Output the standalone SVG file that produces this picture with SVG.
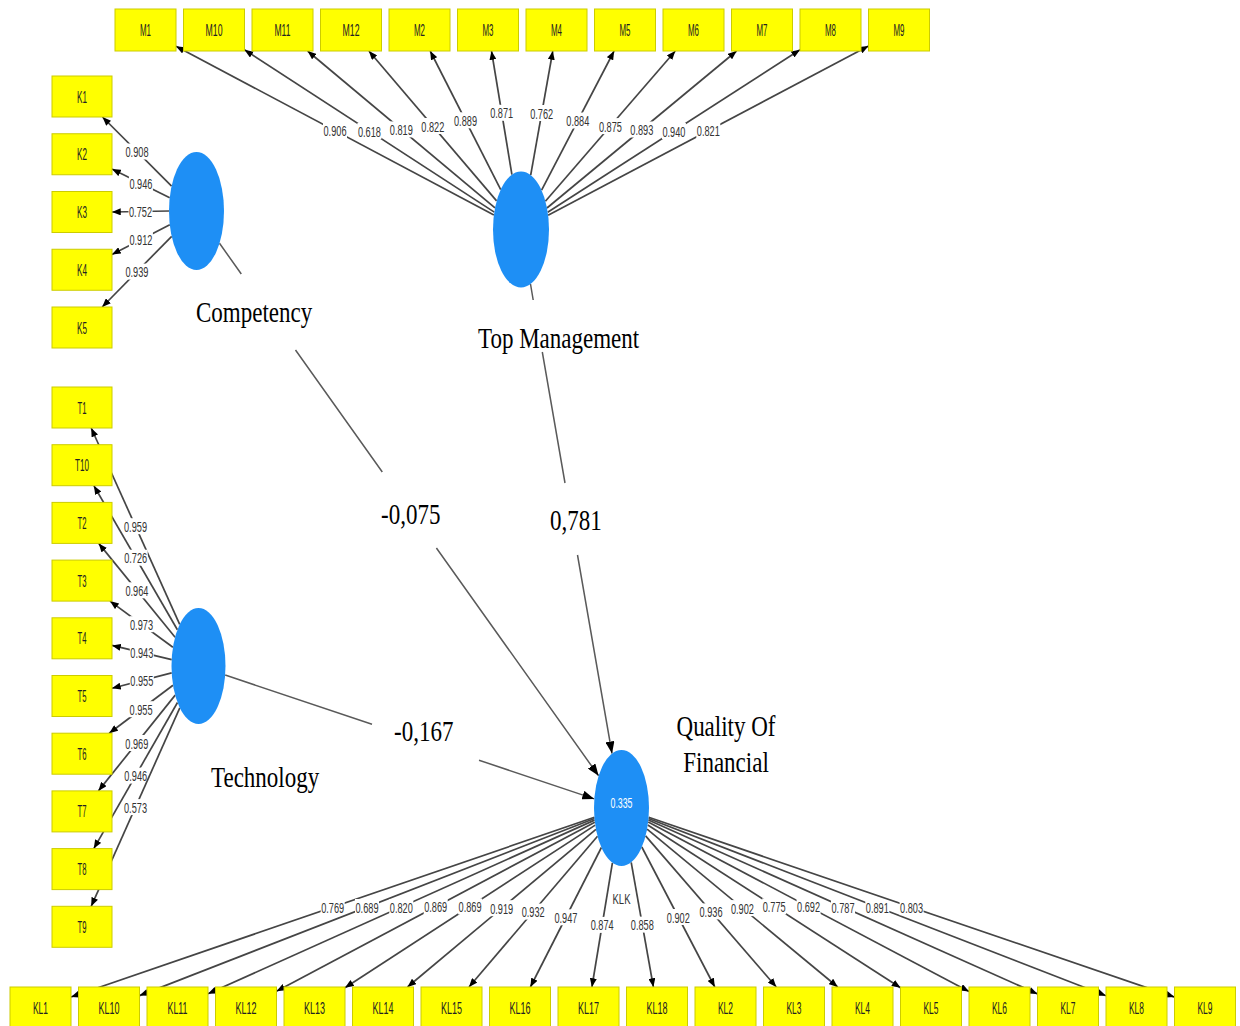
<svg xmlns="http://www.w3.org/2000/svg" width="1240" height="1026" viewBox="0 0 1240 1026">
<defs>
<style>
.ind rect{fill:#ffff00;stroke:#cccc00;stroke-width:1}
.ind text{font-family:"Liberation Sans",Arial,sans-serif;font-size:17px;fill:#222222;text-anchor:middle}
.lv{fill:#1e8ff5}
.ld line{stroke:#454545;stroke-width:1.7;marker-end:url(#ah)}
.ld rect{fill:#ffffff}
.ld text{font-family:"Liberation Sans",Arial,sans-serif;font-size:14px;fill:#333333;text-anchor:middle}
.st{fill:none;stroke:#5a5a5a;stroke-width:1.5;marker-end:url(#ahb)}
.big{font-family:"Liberation Serif","Times New Roman",serif;font-size:23px;fill:#000000}
</style>
<marker id="ah" viewBox="0 0 10 8" refX="10" refY="4" markerWidth="9" markerHeight="7" markerUnits="userSpaceOnUse" orient="auto"><path d="M0,0 L10,4 L0,8 Z" fill="#000"/></marker>
<marker id="ahb" viewBox="0 0 12 9" refX="12" refY="4.5" markerWidth="12" markerHeight="9" markerUnits="userSpaceOnUse" orient="auto"><path d="M0,0 L12,4.5 L0,9 Z" fill="#000"/></marker>
</defs>
<rect width="1240" height="1026" fill="#ffffff"/>

<g id="connectors">
<path id="p-comp-qf" class="st" d="M219.5,243.3 L241.3,274 M295.5,350 L382.3,472 M436.4,548 L598.6,775.8"/>
<path id="p-tm-qf" class="st" d="M530.5,284 L533.2,300 M542.3,352 L565,483 M577.5,555 L612,753.5"/>
<path id="p-tech-qf" class="st" d="M225.2,675 L372,724.3 M479,760.2 L594.3,798.9"/>

<g class="ld">
<line x1="493.9" y1="215.1" x2="176" y2="46.2"/><rect x="323" y="123" width="24" height="16"/><text x="335" y="136" textLength="23" lengthAdjust="spacingAndGlyphs">0.906</text>
<line x1="494.3" y1="212.1" x2="244.5" y2="49.8"/><rect x="357.4" y="123" width="24" height="16"/><text x="369.4" y="136.5" textLength="23" lengthAdjust="spacingAndGlyphs">0.618</text>
<line x1="495" y1="207.8" x2="307.6" y2="51"/><rect x="389.3" y="121.4" width="24" height="16"/><text x="401.3" y="134.9" textLength="23" lengthAdjust="spacingAndGlyphs">0.819</text>
<line x1="496.6" y1="200.9" x2="368.9" y2="51"/><rect x="420.8" y="118" width="24" height="16"/><text x="432.8" y="131.5" textLength="23" lengthAdjust="spacingAndGlyphs">0.822</text>
<line x1="500.7" y1="189.6" x2="430.2" y2="51"/><rect x="453.5" y="112.3" width="24" height="16"/><text x="465.5" y="125.8" textLength="23" lengthAdjust="spacingAndGlyphs">0.889</text>
<line x1="511.9" y1="174.6" x2="491.5" y2="51"/><rect x="489.7" y="104.8" width="24" height="16"/><text x="501.7" y="118.3" textLength="23" lengthAdjust="spacingAndGlyphs">0.871</text>
<line x1="530.7" y1="175.1" x2="552.8" y2="51"/><rect x="529.7" y="105" width="24" height="16"/><text x="541.7" y="118.5" textLength="23" lengthAdjust="spacingAndGlyphs">0.762</text>
<line x1="541.6" y1="190.1" x2="614.1" y2="51"/><rect x="565.8" y="112.5" width="24" height="16"/><text x="577.8" y="126" textLength="23" lengthAdjust="spacingAndGlyphs">0.884</text>
<line x1="545.4" y1="201.2" x2="675.3" y2="51"/><rect x="598.4" y="118.1" width="24" height="16"/><text x="610.4" y="131.6" textLength="23" lengthAdjust="spacingAndGlyphs">0.875</text>
<line x1="547" y1="208" x2="736.6" y2="51"/><rect x="629.8" y="121.5" width="24" height="16"/><text x="641.8" y="135" textLength="23" lengthAdjust="spacingAndGlyphs">0.893</text>
<line x1="547.7" y1="212.3" x2="800" y2="49.7"/><rect x="661.9" y="123" width="24" height="16"/><text x="673.9" y="136.5" textLength="23" lengthAdjust="spacingAndGlyphs">0.940</text>
<line x1="548.1" y1="215.2" x2="868.5" y2="46.1"/><rect x="696.3" y="122.6" width="24" height="16"/><text x="708.3" y="136.1" textLength="23" lengthAdjust="spacingAndGlyphs">0.821</text>
</g>

<g class="ld">
<line x1="171.6" y1="186.1" x2="102.5" y2="117"/><rect x="125" y="143.5" width="24" height="16"/><text x="137" y="157" textLength="23" lengthAdjust="spacingAndGlyphs">0.908</text>
<line x1="169.7" y1="197.7" x2="112" y2="169.1"/><rect x="128.9" y="175.4" width="24" height="16"/><text x="140.9" y="188.9" textLength="23" lengthAdjust="spacingAndGlyphs">0.946</text>
<line x1="169" y1="211" x2="112" y2="212"/><rect x="128.5" y="203.5" width="24" height="16"/><text x="140.5" y="217" textLength="23" lengthAdjust="spacingAndGlyphs">0.752</text>
<line x1="169.8" y1="224.7" x2="112" y2="254.4"/><rect x="128.9" y="231.5" width="24" height="16"/><text x="140.9" y="245" textLength="23" lengthAdjust="spacingAndGlyphs">0.912</text>
<line x1="171.7" y1="236.3" x2="102.2" y2="307"/><rect x="124.9" y="263.6" width="24" height="16"/><text x="136.9" y="277.1" textLength="23" lengthAdjust="spacingAndGlyphs">0.939</text>
</g>

<g class="ld">
<line x1="179.7" y1="624.3" x2="91.2" y2="428"/><rect x="123.5" y="518.2" width="24" height="16"/><text x="135.5" y="531.7" textLength="23" lengthAdjust="spacingAndGlyphs">0.959</text>
<line x1="177.4" y1="629.7" x2="93.9" y2="485.7"/><rect x="123.7" y="549.7" width="24" height="16"/><text x="135.7" y="563.2" textLength="23" lengthAdjust="spacingAndGlyphs">0.726</text>
<line x1="175.1" y1="637.2" x2="98.7" y2="543.4"/><rect x="124.9" y="582.3" width="24" height="16"/><text x="136.9" y="595.8" textLength="23" lengthAdjust="spacingAndGlyphs">0.964</text>
<line x1="172.9" y1="647.3" x2="110" y2="601.1"/><rect x="129.5" y="616.2" width="24" height="16"/><text x="141.5" y="629.7" textLength="23" lengthAdjust="spacingAndGlyphs">0.973</text>
<line x1="171.7" y1="659.6" x2="112" y2="645.4"/><rect x="129.8" y="644.5" width="24" height="16"/><text x="141.8" y="658" textLength="23" lengthAdjust="spacingAndGlyphs">0.943</text>
<line x1="171.7" y1="672.9" x2="112" y2="688.3"/><rect x="129.8" y="672.6" width="24" height="16"/><text x="141.8" y="686.1" textLength="23" lengthAdjust="spacingAndGlyphs">0.955</text>
<line x1="173" y1="685.2" x2="109.2" y2="733.2"/><rect x="129.1" y="701.2" width="24" height="16"/><text x="141.1" y="714.7" textLength="23" lengthAdjust="spacingAndGlyphs">0.955</text>
<line x1="175.2" y1="695.1" x2="98.4" y2="790.9"/><rect x="124.8" y="735" width="24" height="16"/><text x="136.8" y="748.5" textLength="23" lengthAdjust="spacingAndGlyphs">0.969</text>
<line x1="177.5" y1="702.5" x2="93.8" y2="848.6"/><rect x="123.7" y="767.6" width="24" height="16"/><text x="135.7" y="781.1" textLength="23" lengthAdjust="spacingAndGlyphs">0.946</text>
<line x1="179.8" y1="707.9" x2="91.2" y2="906.3"/><rect x="123.5" y="799.1" width="24" height="16"/><text x="135.5" y="812.6" textLength="23" lengthAdjust="spacingAndGlyphs">0.573</text>
</g>

<g class="ld">
<line x1="594.4" y1="817.3" x2="71" y2="997"/><rect x="320.7" y="899.2" width="24" height="16"/><text x="332.7" y="912.7" textLength="23" lengthAdjust="spacingAndGlyphs">0.769</text>
<line x1="594.5" y1="818.5" x2="139.5" y2="995.6"/><rect x="355" y="899" width="24" height="16"/><text x="367" y="912.5" textLength="23" lengthAdjust="spacingAndGlyphs">0.689</text>
<line x1="594.6" y1="820.1" x2="208" y2="993.8"/><rect x="389.3" y="899" width="24" height="16"/><text x="401.3" y="912.5" textLength="23" lengthAdjust="spacingAndGlyphs">0.820</text>
<line x1="594.8" y1="822.2" x2="276.5" y2="991.3"/><rect x="423.7" y="898.7" width="24" height="16"/><text x="435.7" y="912.2" textLength="23" lengthAdjust="spacingAndGlyphs">0.869</text>
<line x1="595.2" y1="825.1" x2="345" y2="987.7"/><rect x="458.1" y="898.4" width="24" height="16"/><text x="470.1" y="911.9" textLength="23" lengthAdjust="spacingAndGlyphs">0.869</text>
<line x1="595.9" y1="829.4" x2="407.5" y2="987"/><rect x="489.7" y="900.2" width="24" height="16"/><text x="501.7" y="913.7" textLength="23" lengthAdjust="spacingAndGlyphs">0.919</text>
<line x1="597.5" y1="836.2" x2="469" y2="987"/><rect x="521.2" y="903.6" width="24" height="16"/><text x="533.2" y="917.1" textLength="23" lengthAdjust="spacingAndGlyphs">0.932</text>
<line x1="601.4" y1="847.5" x2="530.4" y2="987"/><rect x="553.9" y="909.3" width="24" height="16"/><text x="565.9" y="922.8" textLength="23" lengthAdjust="spacingAndGlyphs">0.947</text>
<line x1="612.4" y1="862.8" x2="591.9" y2="987"/><rect x="590.2" y="916.9" width="24" height="16"/><text x="602.2" y="930.4" textLength="23" lengthAdjust="spacingAndGlyphs">0.874</text>
<line x1="631.2" y1="862.3" x2="653.4" y2="987"/><rect x="630.3" y="916.6" width="24" height="16"/><text x="642.3" y="930.1" textLength="23" lengthAdjust="spacingAndGlyphs">0.858</text>
<line x1="641.8" y1="847" x2="714.8" y2="987"/><rect x="666.3" y="909" width="24" height="16"/><text x="678.3" y="922.5" textLength="23" lengthAdjust="spacingAndGlyphs">0.902</text>
<line x1="645.6" y1="835.9" x2="776.3" y2="987"/><rect x="699" y="903.4" width="24" height="16"/><text x="711" y="916.9" textLength="23" lengthAdjust="spacingAndGlyphs">0.936</text>
<line x1="647.1" y1="829.2" x2="837.7" y2="987"/><rect x="730.4" y="900.1" width="24" height="16"/><text x="742.4" y="913.6" textLength="23" lengthAdjust="spacingAndGlyphs">0.902</text>
<line x1="647.8" y1="825" x2="900.5" y2="987.8"/><rect x="762.2" y="898.4" width="24" height="16"/><text x="774.2" y="911.9" textLength="23" lengthAdjust="spacingAndGlyphs">0.775</text>
<line x1="648.2" y1="822.1" x2="969" y2="991.4"/><rect x="796.6" y="898.7" width="24" height="16"/><text x="808.6" y="912.2" textLength="23" lengthAdjust="spacingAndGlyphs">0.692</text>
<line x1="648.4" y1="820" x2="1037.5" y2="993.9"/><rect x="831" y="899" width="24" height="16"/><text x="843" y="912.5" textLength="23" lengthAdjust="spacingAndGlyphs">0.787</text>
<line x1="648.5" y1="818.5" x2="1106" y2="995.7"/><rect x="865.3" y="899.1" width="24" height="16"/><text x="877.3" y="912.6" textLength="23" lengthAdjust="spacingAndGlyphs">0.891</text>
<line x1="648.7" y1="817.3" x2="1174.5" y2="997.1"/><rect x="899.6" y="899.2" width="24" height="16"/><text x="911.6" y="912.7" textLength="23" lengthAdjust="spacingAndGlyphs">0.803</text>
</g>

<text class="big" transform="translate(381,524) scale(1,1.3)">-0,075</text>
<text class="big" transform="translate(550,530) scale(1,1.3)">0,781</text>
<text class="big" transform="translate(394,741) scale(1,1.3)">-0,167</text>
</g>

<g id="competency">
<ellipse class="lv" cx="196.5" cy="211" rx="27.5" ry="59"/>
<text class="big" transform="translate(196,322) scale(1,1.3)">Competency</text>
</g>
<g id="top-management">
<ellipse class="lv" cx="521" cy="229.5" rx="28" ry="58"/>
<text class="big" transform="translate(478,348) scale(1,1.3)">Top Management</text>
</g>
<g id="technology">
<ellipse class="lv" cx="198.5" cy="666" rx="27" ry="58"/>
<text class="big" transform="translate(211,787) scale(1,1.3)">Technology</text>
</g>
<g id="quality-of-financial">
<ellipse class="lv" cx="621.5" cy="808" rx="27.5" ry="58"/>
<text x="621.5" y="808" font-family="Liberation Sans, Arial, sans-serif" font-size="14" fill="#ffffff" text-anchor="middle" textLength="22" lengthAdjust="spacingAndGlyphs">0.335</text>
<text x="621.5" y="904" font-family="Liberation Sans, Arial, sans-serif" font-size="15" fill="#333333" text-anchor="middle" textLength="18" lengthAdjust="spacingAndGlyphs">KLK</text>
<text class="big" text-anchor="middle" transform="translate(726,736) scale(1,1.3)">Quality Of</text>
<text class="big" text-anchor="middle" transform="translate(726,772) scale(1,1.3)">Financial</text>
</g>

<g class="ind">
<g id="M1"><rect x="115" y="9" width="61" height="42"/><text x="145.5" y="36" textLength="11" lengthAdjust="spacingAndGlyphs">M1</text></g>
<g id="M10"><rect x="183.5" y="9" width="61" height="42"/><text x="214" y="36" textLength="17" lengthAdjust="spacingAndGlyphs">M10</text></g>
<g id="M11"><rect x="252" y="9" width="61" height="42"/><text x="282.5" y="36" textLength="16" lengthAdjust="spacingAndGlyphs">M11</text></g>
<g id="M12"><rect x="320.5" y="9" width="61" height="42"/><text x="351" y="36" textLength="17" lengthAdjust="spacingAndGlyphs">M12</text></g>
<g id="M2"><rect x="389" y="9" width="61" height="42"/><text x="419.5" y="36" textLength="11" lengthAdjust="spacingAndGlyphs">M2</text></g>
<g id="M3"><rect x="457.5" y="9" width="61" height="42"/><text x="488" y="36" textLength="11" lengthAdjust="spacingAndGlyphs">M3</text></g>
<g id="M4"><rect x="526" y="9" width="61" height="42"/><text x="556.5" y="36" textLength="11" lengthAdjust="spacingAndGlyphs">M4</text></g>
<g id="M5"><rect x="594.5" y="9" width="61" height="42"/><text x="625" y="36" textLength="11" lengthAdjust="spacingAndGlyphs">M5</text></g>
<g id="M6"><rect x="663" y="9" width="61" height="42"/><text x="693.5" y="36" textLength="11" lengthAdjust="spacingAndGlyphs">M6</text></g>
<g id="M7"><rect x="731.5" y="9" width="61" height="42"/><text x="762" y="36" textLength="11" lengthAdjust="spacingAndGlyphs">M7</text></g>
<g id="M8"><rect x="800" y="9" width="61" height="42"/><text x="830.5" y="36" textLength="11" lengthAdjust="spacingAndGlyphs">M8</text></g>
<g id="M9"><rect x="868.5" y="9" width="61" height="42"/><text x="899" y="36" textLength="11" lengthAdjust="spacingAndGlyphs">M9</text></g>
</g>

<g class="ind">
<g id="K1"><rect x="52" y="76" width="60" height="41"/><text x="82" y="102.5" textLength="10" lengthAdjust="spacingAndGlyphs">K1</text></g>
<g id="K2"><rect x="52" y="133.75" width="60" height="41"/><text x="82" y="160.25" textLength="10" lengthAdjust="spacingAndGlyphs">K2</text></g>
<g id="K3"><rect x="52" y="191.5" width="60" height="41"/><text x="82" y="218" textLength="10" lengthAdjust="spacingAndGlyphs">K3</text></g>
<g id="K4"><rect x="52" y="249.25" width="60" height="41"/><text x="82" y="275.75" textLength="10" lengthAdjust="spacingAndGlyphs">K4</text></g>
<g id="K5"><rect x="52" y="307" width="60" height="41"/><text x="82" y="333.5" textLength="10" lengthAdjust="spacingAndGlyphs">K5</text></g>
</g>

<g class="ind">
<g id="T1"><rect x="52" y="387" width="60" height="41"/><text x="82" y="413.5" textLength="9" lengthAdjust="spacingAndGlyphs">T1</text></g>
<g id="T10"><rect x="52" y="444.7" width="60" height="41"/><text x="82" y="471.2" textLength="14" lengthAdjust="spacingAndGlyphs">T10</text></g>
<g id="T2"><rect x="52" y="502.4" width="60" height="41"/><text x="82" y="528.9" textLength="9" lengthAdjust="spacingAndGlyphs">T2</text></g>
<g id="T3"><rect x="52" y="560.1" width="60" height="41"/><text x="82" y="586.6" textLength="9" lengthAdjust="spacingAndGlyphs">T3</text></g>
<g id="T4"><rect x="52" y="617.8" width="60" height="41"/><text x="82" y="644.3" textLength="9" lengthAdjust="spacingAndGlyphs">T4</text></g>
<g id="T5"><rect x="52" y="675.5" width="60" height="41"/><text x="82" y="702" textLength="9" lengthAdjust="spacingAndGlyphs">T5</text></g>
<g id="T6"><rect x="52" y="733.2" width="60" height="41"/><text x="82" y="759.7" textLength="9" lengthAdjust="spacingAndGlyphs">T6</text></g>
<g id="T7"><rect x="52" y="790.9" width="60" height="41"/><text x="82" y="817.4" textLength="9" lengthAdjust="spacingAndGlyphs">T7</text></g>
<g id="T8"><rect x="52" y="848.6" width="60" height="41"/><text x="82" y="875.1" textLength="9" lengthAdjust="spacingAndGlyphs">T8</text></g>
<g id="T9"><rect x="52" y="906.3" width="60" height="41"/><text x="82" y="932.8" textLength="9" lengthAdjust="spacingAndGlyphs">T9</text></g>
</g>

<g class="ind">
<g id="KL1"><rect x="10" y="987" width="61" height="42"/><text x="40.5" y="1014" textLength="15" lengthAdjust="spacingAndGlyphs">KL1</text></g>
<g id="KL10"><rect x="78.5" y="987" width="61" height="42"/><text x="109" y="1014" textLength="21" lengthAdjust="spacingAndGlyphs">KL10</text></g>
<g id="KL11"><rect x="147" y="987" width="61" height="42"/><text x="177.5" y="1014" textLength="20" lengthAdjust="spacingAndGlyphs">KL11</text></g>
<g id="KL12"><rect x="215.5" y="987" width="61" height="42"/><text x="246" y="1014" textLength="21" lengthAdjust="spacingAndGlyphs">KL12</text></g>
<g id="KL13"><rect x="284" y="987" width="61" height="42"/><text x="314.5" y="1014" textLength="21" lengthAdjust="spacingAndGlyphs">KL13</text></g>
<g id="KL14"><rect x="352.5" y="987" width="61" height="42"/><text x="383" y="1014" textLength="21" lengthAdjust="spacingAndGlyphs">KL14</text></g>
<g id="KL15"><rect x="421" y="987" width="61" height="42"/><text x="451.5" y="1014" textLength="21" lengthAdjust="spacingAndGlyphs">KL15</text></g>
<g id="KL16"><rect x="489.5" y="987" width="61" height="42"/><text x="520" y="1014" textLength="21" lengthAdjust="spacingAndGlyphs">KL16</text></g>
<g id="KL17"><rect x="558" y="987" width="61" height="42"/><text x="588.5" y="1014" textLength="21" lengthAdjust="spacingAndGlyphs">KL17</text></g>
<g id="KL18"><rect x="626.5" y="987" width="61" height="42"/><text x="657" y="1014" textLength="21" lengthAdjust="spacingAndGlyphs">KL18</text></g>
<g id="KL2"><rect x="695" y="987" width="61" height="42"/><text x="725.5" y="1014" textLength="15" lengthAdjust="spacingAndGlyphs">KL2</text></g>
<g id="KL3"><rect x="763.5" y="987" width="61" height="42"/><text x="794" y="1014" textLength="15" lengthAdjust="spacingAndGlyphs">KL3</text></g>
<g id="KL4"><rect x="832" y="987" width="61" height="42"/><text x="862.5" y="1014" textLength="15" lengthAdjust="spacingAndGlyphs">KL4</text></g>
<g id="KL5"><rect x="900.5" y="987" width="61" height="42"/><text x="931" y="1014" textLength="15" lengthAdjust="spacingAndGlyphs">KL5</text></g>
<g id="KL6"><rect x="969" y="987" width="61" height="42"/><text x="999.5" y="1014" textLength="15" lengthAdjust="spacingAndGlyphs">KL6</text></g>
<g id="KL7"><rect x="1037.5" y="987" width="61" height="42"/><text x="1068" y="1014" textLength="15" lengthAdjust="spacingAndGlyphs">KL7</text></g>
<g id="KL8"><rect x="1106" y="987" width="61" height="42"/><text x="1136.5" y="1014" textLength="15" lengthAdjust="spacingAndGlyphs">KL8</text></g>
<g id="KL9"><rect x="1174.5" y="987" width="61" height="42"/><text x="1205" y="1014" textLength="15" lengthAdjust="spacingAndGlyphs">KL9</text></g>
</g>
</svg>
